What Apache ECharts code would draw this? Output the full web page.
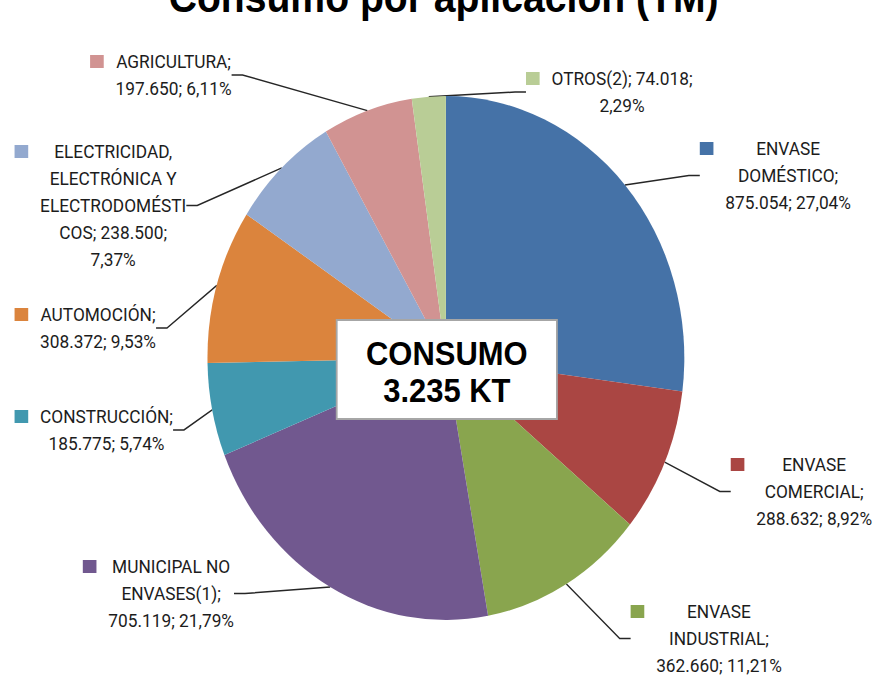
<!DOCTYPE html>
<html>
<head>
<meta charset="utf-8">
<script src="https://cdn.jsdelivr.net/npm/echarts@6/dist/echarts.min.js"></script>
<style>
  html, body { margin: 0; padding: 0; background: #fff; overflow: hidden; }
  /* the source picture is squeezed horizontally, so the pie looks like an ellipse */
  #chart { width: 975px; height: 678px; transform: scaleX(0.91); transform-origin: 0 0; }
</style>
</head>
<body>
<div id="chart"></div>
<script>
var categories = [
  'ENVASE DOMÉSTICO',
  'ENVASE COMERCIAL',
  'ENVASE INDUSTRIAL',
  'MUNICIPAL NO ENVASES(1)',
  'CONSTRUCCIÓN',
  'AUTOMOCIÓN',
  'ELECTRICIDAD, ELECTRÓNICA Y ELECTRODOMÉSTICOS',
  'AGRICULTURA',
  'OTROS(2)'
];
var values = [875054, 288632, 362660, 705119, 185775, 308372, 238500, 197650, 74018];

// label text wrapped the way Excel did it; {v} = value, {p} = percent
var labelTexts = [
  'ENVASE\nDOMÉSTICO;\n{v}; {p}',
  'ENVASE\nCOMERCIAL;\n{v}; {p}',
  'ENVASE\nINDUSTRIAL;\n{v}; {p}',
  'MUNICIPAL NO\nENVASES(1);\n{v}; {p}',
  'CONSTRUCCIÓN;\n{v}; {p}',
  'AUTOMOCIÓN;\n{v}; {p}',
  'ELECTRICIDAD,\nELECTRÓNICA Y\nELECTRODOMÉSTI\nCOS; {v};\n{p}',
  'AGRICULTURA;\n{v}; {p}',
  'OTROS(2); {v};\n{p}'
];
var centerText = 'CONSUMO\n3.235 KT';
var titleText = 'Consumo por aplicación (TM)';

var colors = ['#4572A7', '#AA4643', '#89A54E', '#71588F', '#4198AF', '#DB843D', '#93A9CF', '#D19392', '#B9CD96'];

// top-left corner of each label block (chart px, before the squeeze)
var labelSpots = [
  [769, 135], [803, 451], [693, 598], [91, 553], [16, 403],
  [16, 301], [16, 138], [99, 48], [578, 65]
];

function thousands(v) {
  return String(v).replace(/\B(?=(\d{3})+(?!\d))/g, '.');
}

function richFor(c) {
  return {
    sq: { width: 15, height: 13, backgroundColor: c, align: 'left', verticalAlign: 'middle' },
    g: { width: 13, align: 'left' },
    b: { width: 28, align: 'left' },
    t: { align: 'center', fontFamily: 'Roboto', fontSize: 19, lineHeight: 27, color: '#1c1c1c' }
  };
}

var pieData = values.map(function (v, i) {
  return {
    name: categories[i],
    value: v,
    itemStyle: { color: colors[i] },
    label: { rich: richFor(colors[i]) }
  };
});

var chart = echarts.init(document.getElementById('chart'), null, { renderer: 'svg' });

var option = {
  animation: false,
  title: {
    text: titleText,
    left: 'center',
    top: -24,
    padding: 0,
    textStyle: { fontFamily: 'Liberation Sans', fontWeight: 'bold', fontSize: 43, color: '#000' }
  },
  series: [
    {
      type: 'pie',
      center: [490, 358],
      radius: 262,
      startAngle: 90,
      clockwise: true,
      avoidLabelOverlap: false,
      itemStyle: { borderWidth: 0 },
      emphasis: { disabled: true },
      label: {
        show: true,
        position: 'outside',
        fontFamily: 'Roboto',
        fontSize: 19,
        lineHeight: 27,
        color: '#1c1c1c',
        formatter: function (p) {
          var txt = labelTexts[p.dataIndex]
            .replace('{v}', thousands(p.value))
            .replace('{p}', p.percent.toFixed(2).replace('.', ',') + '%');
          return txt.split('\n').map(function (s, i) {
            return (i === 0 ? '{sq|}{g|}' : '{b|}') + '{t|' + s + '}';
          }).join('\n');
        }
      },
      labelLine: {
        show: true,
        length: 10,
        length2: 12,
        lineStyle: { color: '#262626', width: 1.5 }
      },
      labelLayout: function (params) {
        var spot = labelSpots[params.dataIndex];
        return { x: spot[0], y: spot[1], align: 'left', verticalAlign: 'top' };
      },
      data: pieData
    }
  ],
  graphic: [
    {
      type: 'rect',
      z: 100,
      shape: { x: 370, y: 320, width: 242, height: 99 },
      style: { fill: '#fff', stroke: '#a6a6a6', lineWidth: 2 }
    },
    {
      type: 'text',
      z: 101,
      style: {
        text: centerText,
        x: 491,
        y: 372,
        align: 'center',
        verticalAlign: 'middle',
        fontFamily: 'Liberation Sans',
        fontWeight: 'bold',
        fontSize: 34,
        lineHeight: 38,
        fill: '#000'
      }
    }
  ]
};

chart.setOption(option);
</script>
</body>
</html>
